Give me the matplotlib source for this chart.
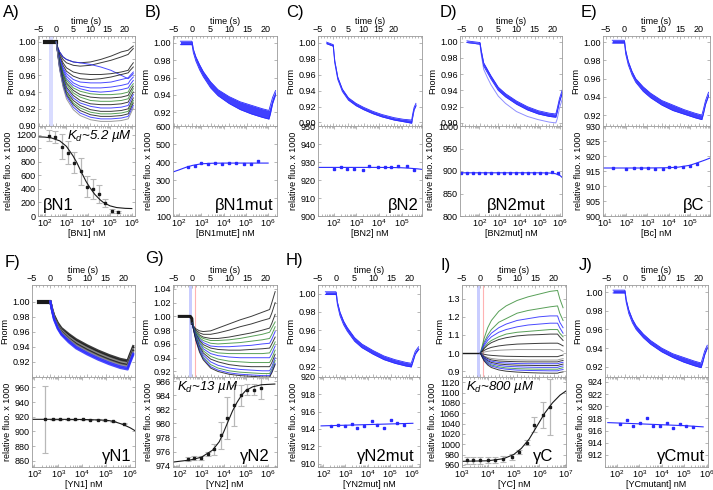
import numpy as np
import matplotlib
matplotlib.use('Agg')
import matplotlib.pyplot as plt
from matplotlib.ticker import (LogLocator, FormatStrFormatter, MultipleLocator,
                               NullFormatter)

plt.rcParams['font.family'] = ['Liberation Sans', 'DejaVu Sans']
plt.rcParams['mathtext.fontset'] = 'custom'
plt.rcParams['mathtext.rm'] = 'Liberation Sans'
plt.rcParams['mathtext.it'] = 'Liberation Sans:italic'

BLUE = '#2b2bff'
GREEN = '#3b8f3b'
BLACK = '#1a1a1a'
GRAY = '#8a8a8a'
FRAME = '#9a9a9a'
CMAP = {'k': BLACK, 'b': BLUE, 'g': GREEN, 'y': GRAY}

# ---------------- time traces (Fnorm) ----------------
# multi-trace panels share one time grid (s)
t_multi = [0, 0.5, 1, 2, 3, 5, 7, 10, 13, 16, 19, 21, 21.6, 22.5]

A_cols = 'kkbkkbbbgkgkbkgkby'
A_traces = [
    [1.0, 0.993, 0.988, 0.982, 0.979, 0.976, 0.975, 0.976, 0.979, 0.983, 0.988, 0.990, 0.992, 0.995],
    [1.0, 0.992, 0.986, 0.979, 0.975, 0.972, 0.971, 0.972, 0.975, 0.978, 0.982, 0.985, 0.988, 0.992],
    [1.0, 0.993, 0.988, 0.982, 0.979, 0.976, 0.975, 0.973, 0.970, 0.966, 0.960, 0.956, 0.958, 0.962],
    [1.0, 0.991, 0.984, 0.975, 0.969, 0.964, 0.962, 0.961, 0.961, 0.962, 0.964, 0.966, 0.970, 0.975],
    [1.0, 0.990, 0.982, 0.972, 0.965, 0.959, 0.956, 0.955, 0.956, 0.958, 0.961, 0.963, 0.966, 0.970],
    [1.0, 0.990, 0.981, 0.969, 0.962, 0.955, 0.952, 0.951, 0.951, 0.952, 0.955, 0.957, 0.960, 0.964],
    [1.0, 0.989, 0.979, 0.967, 0.959, 0.951, 0.947, 0.945, 0.945, 0.946, 0.948, 0.950, 0.954, 0.958],
    [1.0, 0.988, 0.978, 0.965, 0.956, 0.948, 0.944, 0.941, 0.940, 0.941, 0.943, 0.945, 0.949, 0.954],
    [1.0, 0.988, 0.977, 0.963, 0.954, 0.945, 0.941, 0.938, 0.937, 0.937, 0.938, 0.940, 0.945, 0.950],
    [1.0, 0.987, 0.976, 0.961, 0.951, 0.942, 0.937, 0.934, 0.933, 0.933, 0.934, 0.936, 0.941, 0.947],
    [1.0, 0.987, 0.975, 0.959, 0.949, 0.939, 0.934, 0.930, 0.929, 0.929, 0.930, 0.932, 0.937, 0.944],
    [1.0, 0.986, 0.973, 0.957, 0.946, 0.936, 0.930, 0.926, 0.925, 0.925, 0.926, 0.928, 0.933, 0.940],
    [1.0, 0.986, 0.972, 0.955, 0.944, 0.933, 0.927, 0.923, 0.921, 0.921, 0.922, 0.924, 0.929, 0.937],
    [1.0, 0.985, 0.971, 0.953, 0.941, 0.930, 0.924, 0.919, 0.917, 0.917, 0.918, 0.920, 0.925, 0.933],
    [1.0, 0.985, 0.970, 0.951, 0.939, 0.927, 0.921, 0.916, 0.914, 0.914, 0.915, 0.917, 0.922, 0.930],
    [1.0, 0.984, 0.969, 0.949, 0.937, 0.925, 0.918, 0.913, 0.911, 0.911, 0.912, 0.914, 0.919, 0.927],
    [1.0, 0.984, 0.968, 0.948, 0.935, 0.922, 0.915, 0.910, 0.908, 0.908, 0.909, 0.911, 0.916, 0.924],
    [1.0, 0.983, 0.967, 0.946, 0.932, 0.919, 0.912, 0.907, 0.905, 0.905, 0.906, 0.908, 0.913, 0.921],
]

F_cols = 'kkykybb'
F_traces = [
    [1.0, 0.990, 0.982, 0.972, 0.965, 0.957, 0.950, 0.942, 0.935, 0.929, 0.924, 0.922, 0.930, 0.941],
    [1.0, 0.989, 0.981, 0.970, 0.963, 0.955, 0.948, 0.940, 0.933, 0.927, 0.922, 0.920, 0.928, 0.939],
    [1.0, 0.989, 0.980, 0.969, 0.962, 0.953, 0.946, 0.938, 0.931, 0.925, 0.920, 0.918, 0.926, 0.937],
    [1.0, 0.988, 0.979, 0.968, 0.960, 0.951, 0.944, 0.936, 0.929, 0.923, 0.918, 0.916, 0.924, 0.935],
    [1.0, 0.988, 0.978, 0.967, 0.959, 0.950, 0.942, 0.934, 0.927, 0.921, 0.916, 0.914, 0.922, 0.933],
    [1.0, 0.987, 0.977, 0.965, 0.957, 0.948, 0.940, 0.932, 0.925, 0.919, 0.914, 0.912, 0.920, 0.931],
    [1.0, 0.987, 0.976, 0.964, 0.956, 0.946, 0.938, 0.930, 0.923, 0.917, 0.912, 0.910, 0.918, 0.929],
]

G_cols = 'kkkggbkgbgkbgbk'
G_traces = [
    [0.990, 0.985, 0.982, 0.979, 0.978, 0.979, 0.983, 0.989, 0.995, 1.000, 1.006, 1.010, 1.020, 1.036],
    [0.990, 0.984, 0.980, 0.976, 0.974, 0.974, 0.976, 0.980, 0.985, 0.989, 0.994, 0.997, 1.005, 1.020],
    [0.990, 0.983, 0.978, 0.973, 0.970, 0.968, 0.968, 0.970, 0.973, 0.976, 0.980, 0.983, 0.990, 1.003],
    [0.990, 0.983, 0.977, 0.971, 0.968, 0.965, 0.965, 0.966, 0.968, 0.971, 0.974, 0.977, 0.983, 0.992],
    [0.990, 0.982, 0.976, 0.969, 0.965, 0.961, 0.960, 0.961, 0.962, 0.964, 0.966, 0.968, 0.974, 0.985],
    [0.990, 0.982, 0.975, 0.967, 0.962, 0.957, 0.956, 0.956, 0.957, 0.958, 0.960, 0.961, 0.967, 0.978],
    [0.990, 0.981, 0.974, 0.965, 0.959, 0.954, 0.952, 0.951, 0.951, 0.952, 0.953, 0.954, 0.960, 0.970],
    [0.990, 0.981, 0.973, 0.963, 0.956, 0.950, 0.947, 0.946, 0.946, 0.946, 0.946, 0.947, 0.953, 0.963],
    [0.990, 0.980, 0.972, 0.961, 0.953, 0.946, 0.943, 0.941, 0.940, 0.940, 0.940, 0.940, 0.946, 0.957],
    [0.990, 0.980, 0.971, 0.958, 0.950, 0.942, 0.938, 0.935, 0.934, 0.933, 0.933, 0.933, 0.939, 0.951],
    [0.990, 0.979, 0.969, 0.956, 0.947, 0.938, 0.934, 0.930, 0.928, 0.927, 0.927, 0.927, 0.933, 0.945],
    [0.990, 0.979, 0.968, 0.954, 0.944, 0.934, 0.929, 0.925, 0.923, 0.922, 0.921, 0.921, 0.927, 0.940],
    [0.990, 0.978, 0.967, 0.952, 0.941, 0.930, 0.925, 0.921, 0.919, 0.918, 0.917, 0.917, 0.923, 0.936],
    [0.990, 0.978, 0.966, 0.950, 0.939, 0.927, 0.922, 0.918, 0.916, 0.915, 0.914, 0.914, 0.920, 0.932],
    [0.990, 0.977, 0.965, 0.948, 0.937, 0.925, 0.920, 0.916, 0.914, 0.913, 0.912, 0.912, 0.918, 0.930],
]

I_cols = 'ggbbgkkykykbkbgbk'
I_traces = [
    [1.0, 1.040, 1.080, 1.140, 1.180, 1.230, 1.260, 1.290, 1.310, 1.325, 1.340, 1.345, 1.300, 1.250],
    [1.0, 1.030, 1.060, 1.100, 1.130, 1.170, 1.190, 1.220, 1.235, 1.245, 1.255, 1.260, 1.220, 1.180],
    [1.0, 1.025, 1.050, 1.085, 1.110, 1.140, 1.160, 1.180, 1.190, 1.200, 1.205, 1.205, 1.170, 1.140],
    [1.0, 1.020, 1.040, 1.070, 1.090, 1.115, 1.130, 1.145, 1.155, 1.160, 1.165, 1.165, 1.140, 1.110],
    [1.0, 1.015, 1.030, 1.055, 1.070, 1.090, 1.105, 1.115, 1.120, 1.125, 1.130, 1.130, 1.110, 1.090],
    [1.0, 1.012, 1.025, 1.045, 1.058, 1.075, 1.085, 1.095, 1.100, 1.102, 1.105, 1.105, 1.090, 1.070],
    [1.0, 1.008, 1.015, 1.025, 1.032, 1.040, 1.045, 1.050, 1.052, 1.054, 1.055, 1.055, 1.050, 1.040],
    [1.0, 1.003, 1.006, 1.010, 1.013, 1.016, 1.018, 1.020, 1.020, 1.020, 1.020, 1.020, 1.020, 1.010],
    [1.0, 0.997, 0.994, 0.990, 0.988, 0.985, 0.983, 0.982, 0.981, 0.981, 0.981, 0.981, 0.985, 0.990],
    [1.0, 0.992, 0.985, 0.976, 0.971, 0.966, 0.964, 0.963, 0.962, 0.962, 0.962, 0.962, 0.966, 0.970],
    [1.0, 0.990, 0.981, 0.970, 0.963, 0.957, 0.955, 0.953, 0.952, 0.952, 0.952, 0.952, 0.956, 0.960],
    [1.0, 0.988, 0.977, 0.964, 0.956, 0.949, 0.946, 0.943, 0.942, 0.942, 0.942, 0.942, 0.946, 0.950],
    [1.0, 0.986, 0.973, 0.958, 0.949, 0.941, 0.937, 0.934, 0.933, 0.932, 0.932, 0.932, 0.936, 0.940],
    [1.0, 0.984, 0.969, 0.952, 0.942, 0.933, 0.928, 0.925, 0.923, 0.922, 0.922, 0.922, 0.926, 0.930],
    [1.0, 0.982, 0.965, 0.946, 0.935, 0.925, 0.919, 0.915, 0.913, 0.912, 0.912, 0.912, 0.916, 0.920],
    [1.0, 0.980, 0.962, 0.941, 0.929, 0.918, 0.912, 0.907, 0.905, 0.904, 0.903, 0.903, 0.907, 0.910],
    [1.0, 0.978, 0.958, 0.935, 0.921, 0.908, 0.901, 0.896, 0.893, 0.891, 0.890, 0.890, 0.894, 0.897],
]

# single-band panels: upper / lower edge of the overlaid traces
tB = [-3.2, -0.1, 0, 0.3, 1, 2, 3, 5, 7, 10, 13, 16, 19, 20.8, 21.2, 21.8, 22.6]
B_hi = [1.002, 1.002, 1.001, 0.993, 0.984, 0.975, 0.967, 0.955, 0.946, 0.938, 0.932, 0.928, 0.924, 0.922, 0.928, 0.937, 0.945]
B_lo = [0.998, 0.998, 0.997, 0.989, 0.979, 0.969, 0.961, 0.948, 0.939, 0.930, 0.923, 0.918, 0.914, 0.912, 0.918, 0.930, 0.940]

tC = [-2.2, -0.1, 0, 0.5, 1.5, 3, 5, 7.5, 10, 13, 16, 20, 23, 25.8, 26.1, 26.6, 27.2]
C_hi = [1.001, 0.998, 0.998, 0.978, 0.957, 0.942, 0.931, 0.924, 0.919, 0.914, 0.910, 0.906, 0.904, 0.903, 0.910, 0.919, 0.924]
C_lo = [0.999, 0.996, 0.996, 0.975, 0.954, 0.939, 0.928, 0.921, 0.916, 0.911, 0.907, 0.903, 0.901, 0.899, 0.906, 0.916, 0.921]

tD = [-3.6, -0.1, 0, 0.3, 1, 2, 3, 5, 7, 10, 13, 16, 19, 20.8, 21.2, 21.8, 22.6]
D_hi = [1.001, 0.999, 0.999, 0.990, 0.974, 0.966, 0.958, 0.944, 0.936, 0.927, 0.920, 0.915, 0.912, 0.911, 0.918, 0.930, 0.941]
D_lo = [0.999, 0.997, 0.997, 0.987, 0.970, 0.962, 0.954, 0.940, 0.932, 0.923, 0.916, 0.911, 0.908, 0.907, 0.914, 0.926, 0.937]
D_faint = [0.999, 0.997, 0.997, 0.985, 0.966, 0.956, 0.947, 0.933, 0.924, 0.914, 0.908, 0.904, 0.901, 0.900, 0.905, 0.918, 0.930]

tE = [-3.3, -0.1, 0, 0.3, 1, 2, 3, 5, 7, 10, 13, 16, 19, 20.8, 21.2, 21.8, 22.6]
E_hi = [1.002, 1.002, 1.001, 0.991, 0.979, 0.968, 0.960, 0.951, 0.944, 0.936, 0.931, 0.926, 0.922, 0.920, 0.926, 0.936, 0.945]
E_lo = [0.999, 0.999, 0.998, 0.987, 0.975, 0.964, 0.956, 0.946, 0.939, 0.931, 0.925, 0.921, 0.917, 0.915, 0.921, 0.932, 0.941]

tH = [-3.0, -0.1, 0, 0.3, 1, 2, 3, 5, 7, 10, 13, 16, 19, 20.5, 20.9, 21.6, 22.5]
H_hi = [1.002, 1.002, 1.001, 0.991, 0.980, 0.970, 0.963, 0.952, 0.945, 0.938, 0.932, 0.928, 0.925, 0.924, 0.929, 0.937, 0.942]
H_lo = [0.999, 0.999, 0.998, 0.988, 0.976, 0.966, 0.959, 0.948, 0.941, 0.934, 0.928, 0.924, 0.921, 0.920, 0.925, 0.934, 0.939]

tJ = [-3.3, -0.1, 0, 0.3, 1, 2, 3, 5, 7, 10, 13, 16, 19, 20.8, 21.2, 21.8, 22.5]
J_hi = [1.002, 1.002, 1.001, 0.992, 0.981, 0.971, 0.964, 0.955, 0.948, 0.940, 0.934, 0.930, 0.926, 0.924, 0.929, 0.937, 0.943]
J_lo = [0.999, 0.999, 0.998, 0.989, 0.977, 0.967, 0.960, 0.951, 0.944, 0.936, 0.930, 0.925, 0.921, 0.919, 0.924, 0.933, 0.940]

# ---------------- titrations (relative fluo x 1000) ----------------
A_conc = [160, 316, 617, 1175, 2290, 4470, 8530, 16600, 31600, 61700, 120000, 234000]
A_resp = [1184, 1170, 1026, 937, 789, 661, 434, 404, 325, 188, 78, 59]
A_err = [80, 90, 180, 170, 160, 200, 150, 150, 130, 60, 30, 15]
A_fit_x = [50, 100, 200, 500, 1000, 2000, 3000, 5000, 8000, 12000, 20000, 35000, 50000, 100000, 200000, 500000, 1000000]
A_fit_y = [1170, 1166, 1155, 1110, 1030, 890, 790, 640, 510, 420, 320, 240, 200, 150, 125, 113, 110]

B_conc = [250, 500, 1000, 2000, 4000, 8700, 17400, 37000, 79000, 162000, 347000]
B_resp = [370, 380, 392, 388, 396, 391, 393, 392, 391, 390, 405]
B_fit_x = [55, 100, 200, 400, 1000, 3000, 10000, 100000, 1000000]
B_fit_y = [345, 356, 370, 381, 390, 393, 394, 394, 394]

C_conc = [100, 200, 400, 790, 1900, 3800, 8900, 17800, 35500, 72000, 170000, 340000]
C_resp = [926.0, 927.5, 926.0, 926.3, 925.3, 927.8, 927.3, 927.3, 927.5, 927.7, 927.8, 925.5]
C_fit_x = [20, 100, 1000, 10000, 50000, 100000, 200000, 500000, 800000]
C_fit_y = [927, 927, 927, 927, 926.9, 926.8, 926.6, 926.2, 925.9]

D_conc = [13, 25, 50, 100, 200, 400, 800, 1600, 3200, 6400, 12800, 25600, 51200, 102400, 204800, 409600, 819200]
D_resp = [896, 896, 896, 896, 896, 896, 896, 896, 896, 896, 896, 896, 896, 896, 896, 897, 896]
D_fit_x = [11, 100, 10000, 100000, 300000, 600000, 1000000, 1260000]
D_fit_y = [896, 896, 896, 896, 895.5, 894, 890, 886]

E_conc = [25, 98, 230, 480, 1120, 2300, 5200, 10000, 21000, 47000, 98000, 220000]
E_resp = [916.0, 915.8, 916.1, 916.1, 915.9, 915.8, 915.8, 916.3, 916.3, 916.2, 916.8, 917.5]
E_fit_x = [8, 100, 1000, 10000, 30000, 100000, 200000, 500000, 900000]
E_fit_y = [916, 916, 916, 916.1, 916.3, 916.9, 917.6, 918.6, 919.3]

F_conc = [280, 590, 1200, 2500, 5000, 10700, 21000, 45000, 91000, 200000, 560000]
F_resp = [916.5, 916.5, 916.5, 916.5, 916.5, 916.3, 916.2, 915.8, 915.2, 914.0, 910.5]
F_err = [46, 0.6, 0.6, 0.6, 0.6, 0.6, 0.6, 0.6, 0.6, 0.6, 0.6]
F_fit_x = [80, 1000, 10000, 100000, 200000, 500000, 1000000, 1600000]
F_fit_y = [916.5, 916.5, 916.3, 915.3, 913.8, 909.5, 905.0, 901.0]

G_conc = [240, 480, 955, 1900, 3600, 7200, 14500, 29000, 59000, 117000, 234000, 468000]
G_resp = [974.9, 975.1, 975.1, 975.6, 976.3, 978.3, 980.8, 982.6, 984.0, 984.8, 984.8, 985.0]
G_err = [0.3, 0.3, 0.3, 0.3, 0.8, 1.9, 3.0, 2.9, 1.5, 0.8, 0.8, 1.5]
G_fit_x = [52, 316, 1000, 3160, 6300, 10000, 15800, 25100, 39800, 63100, 100000, 200000, 500000, 2000000]
G_fit_y = [974.5, 974.8, 975.2, 976.2, 977.4, 978.8, 980.3, 981.8, 983.0, 984.0, 984.7, 985.2, 985.5, 985.6]

H_conc = [214, 480, 955, 1900, 3470, 6900, 15500, 27500, 56000, 112000, 209000, 417000]
H_resp = [914.3, 914.45, 914.3, 914.6, 914.1, 914.3, 914.9, 914.5, 914.1, 915.0, 914.7, 914.4]
H_fit_x = [80, 10000, 1100000]
H_fit_y = [914.35, 914.5, 914.65]

I_conc = [1550, 2630, 5100, 10000, 19000, 40000, 85000, 166000, 324000, 630000, 1350000, 2570000]
I_resp = [968.8, 968.8, 968.8, 969.0, 970.0, 971.6, 975.5, 985.0, 1003, 1038, 1057, 1072]
I_err = [7, 7, 7, 6, 6, 5, 6, 4, 5, 15, 25, 54]
I_fit_x = [1000, 10000, 40000, 100000, 200000, 400000, 800000, 1600000, 3200000, 6300000, 10700000]
I_fit_y = [967, 968, 972, 980, 992, 1010, 1035, 1060, 1080, 1095, 1103]

J_conc = [141, 275, 550, 1070, 2140, 4170, 8300, 16600, 32400, 64600, 126000, 251000]
J_resp = [917.0, 917.8, 916.8, 917.3, 918.0, 916.8, 916.8, 917.3, 916.4, 917.0, 916.8, 916.6]
J_fit_x = [40, 1000, 100000, 700000]
J_fit_y = [917.3, 917.1, 916.8, 916.6]

W, H = 713, 490
fig = plt.figure(figsize=(W / 100, H / 100), dpi=100)


def px_axes(l, t, r, b):
    return fig.add_axes([l / W, 1 - b / H, (r - l) / W, (b - t) / H])


def frame(ax):
    for s in ax.spines.values():
        s.set_color(FRAME)
        s.set_linewidth(0.6)


def top_panel(l, t, r, b, xlim, ylim, yticks, fmt):
    ax = px_axes(l, t, r, b)
    ax.set_xlim(xlim)
    ax.set_ylim(ylim)
    ax.xaxis.tick_top()
    ax.xaxis.set_label_position('top')
    ax.set_xlabel('time (s)', fontsize=6.5, labelpad=1)
    ax.set_xticks([-5, 0, 5, 10, 15, 20])
    ax.xaxis.set_minor_locator(MultipleLocator(1))
    ax.set_yticks(yticks)
    ax.yaxis.set_major_formatter(FormatStrFormatter(fmt))
    ax.tick_params(which='both', direction='in', top=True, bottom=True,
                   left=True, right=True, labelbottom=False, labeltop=True,
                   labelsize=6.5, pad=1.5, color=FRAME, width=0.5, length=2)
    ax.tick_params(which='minor', length=1.2)
    ax.set_ylabel('Fnorm', fontsize=6.5, labelpad=2)
    frame(ax)
    return ax


def bottom_panel(l, t, r, b, xlim, ylim, yticks, xlabel):
    ax = px_axes(l, t, r, b)
    ax.set_xscale('log')
    ax.set_xlim(xlim)
    ax.set_ylim(ylim)
    ax.xaxis.set_major_locator(LogLocator(base=10, numticks=12))
    ax.xaxis.set_minor_locator(LogLocator(base=10, subs=np.arange(2, 10), numticks=12))
    ax.xaxis.set_minor_formatter(NullFormatter())
    ax.set_yticks(yticks)
    ax.tick_params(which='both', direction='in', top=True, bottom=True,
                   left=True, right=True, labelsize=6.5, pad=1.5,
                   color=FRAME, width=0.5, length=2)
    ax.tick_params(axis='x', pad=0.8)
    ax.tick_params(which='minor', length=1.2)
    ax.set_xlabel(xlabel, fontsize=6.5, labelpad=0)
    ax.set_ylabel('relative fluo. x 1000', fontsize=6.5, labelpad=2)
    frame(ax)
    return ax


def band(ax, tt, hi, lo):
    ax.fill_between(tt, lo, hi, color=BLUE, lw=0, alpha=0.9)
    ax.plot(tt, hi, color=BLUE, lw=0.6)
    ax.plot(tt, lo, color=BLUE, lw=0.6)


def traces(ax, cols, rows, lw=0.7):
    for c, row in zip(cols, rows):
        ax.plot(t_multi, row, color=CMAP[c], lw=lw, alpha=0.85)


def titration(ax, conc, resp, fx, fy, col, err=None):
    if err is not None:
        ax.errorbar(conc, resp, yerr=err, fmt='none', ecolor='#b8b8b8',
                    elinewidth=0.9, capsize=2, capthick=0.8)
    ax.plot(fx, fy, '-', color=col, lw=0.8)
    ax.plot(conc, resp, 's', color=col, ms=2, mec=col)


def name(ax, s, x, y, ha):
    ax.text(x, y, s, transform=ax.transAxes, fontsize=12, ha=ha, va='bottom')


def kd(ax, s, x, y, ha):
    ax.text(x, y, s, transform=ax.transAxes, fontsize=9.5, ha=ha, va='top',
            style='italic')


def plabel(x, y, s):
    fig.text(x / W, 1 - y / H, s, fontsize=12, ha='left', va='center')


# ---------------- row 1 ----------------
# A
ax = top_panel(38, 36, 135, 126, (-5.3, 23), (0.8995, 1.007),
               [0.90, 0.92, 0.94, 0.96, 0.98, 1.00], '%.2f')
ax.axvspan(-2.0, -1.0, color='#d9dcff', lw=0)
ax.plot([-3.3, 0], [1.0, 1.0], color=BLACK, lw=3)
traces(ax, A_cols, A_traces)
ax = bottom_panel(38, 126, 135, 216, (50, 1.4e6), (0, 1330),
                  [0, 200, 400, 600, 800, 1000, 1200], '[BN1] nM')
titration(ax, A_conc, A_resp, A_fit_x, A_fit_y, BLACK, A_err)
name(ax, 'βN1', 0.05, 0.03, 'left')
kd(ax, 'K$_d$~5.2 µM', 0.97, 0.98, 'right')
plabel(3, 13, 'A)')

# B
ax = top_panel(173, 36, 277, 126, (-5.2, 23), (0.904, 1.008),
               [0.92, 0.94, 0.96, 0.98, 1.00], '%.2f')
band(ax, tB, B_hi, B_lo)
ax = bottom_panel(173, 126, 277, 216, (54, 2.5e6), (100, 600),
                  [100, 200, 300, 400, 500, 600], '[BN1mutE] nM')
titration(ax, B_conc, B_resp, B_fit_x, B_fit_y, BLUE)
name(ax, 'βN1mut', 0.97, 0.03, 'right')
plabel(145, 13, 'B)')

# C
ax = top_panel(318, 36, 422, 126, (-3.7, 29.2), (0.8955, 1.0087),
               [0.90, 0.92, 0.94, 0.96, 0.98, 1.00], '%.2f')
band(ax, tC, C_hi, C_lo)
ax = bottom_panel(318, 126, 422, 216, (20, 8e5), (900, 950),
                  [900, 910, 920, 930, 940, 950], '[BN2] nM')
titration(ax, C_conc, C_resp, C_fit_x, C_fit_y, BLUE)
name(ax, 'βN2', 0.97, 0.03, 'right')
plabel(286, 13, 'C)')

# D
ax = top_panel(460, 36, 562, 126, (-5.5, 22.5), (0.8962, 1.007),
               [0.90, 0.92, 0.94, 0.96, 0.98, 1.00], '%.2f')
ax.plot(tD, D_faint, color='#8f8fff', lw=0.7)
band(ax, tD, D_hi, D_lo)
ax = bottom_panel(460, 126, 562, 216, (11, 1.26e6), (800, 1000),
                  [800, 850, 900, 950, 1000], '[BN2mut] nM')
titration(ax, D_conc, D_resp, D_fit_x, D_fit_y, BLUE)
name(ax, 'βN2mut', 0.55, 0.03, 'center')
plabel(440, 13, 'D)')

# E
ax = top_panel(603, 36, 710, 126, (-5.8, 23), (0.908, 1.0067),
               [0.92, 0.94, 0.96, 0.98, 1.00], '%.2f')
band(ax, tE, E_hi, E_lo)
ax = bottom_panel(603, 126, 710, 216, (8, 9e5), (900, 930),
                  [900, 905, 910, 915, 920, 925, 930], '[Bc] nM')
titration(ax, E_conc, E_resp, E_fit_x, E_fit_y, BLUE)
name(ax, 'βC', 0.95, 0.03, 'right')
plabel(581, 13, 'E)')

# ---------------- row 2 ----------------
# F
ax = top_panel(32, 285, 135, 377, (-5.0, 23), (0.90, 1.022),
               [0.92, 0.94, 0.96, 0.98, 1.00], '%.2f')
ax.plot([-3.0, -0.3], [1.0, 1.0], color=BLACK, lw=3)
traces(ax, F_cols, F_traces, lw=1.6)
ax = bottom_panel(32, 377, 135, 467, (80, 1.6e6), (851.5, 974.2),
                  [860, 880, 900, 920, 940, 960], '[YN1] nM')
titration(ax, F_conc, F_resp, F_fit_x, F_fit_y, BLACK, F_err)
name(ax, 'γN1', 0.97, 0.03, 'right')
plabel(5, 262, 'F)')

# G
ax = top_panel(173, 285, 277, 377, (-5.2, 23), (0.912, 1.0456),
               [0.92, 0.94, 0.96, 0.98, 1.00, 1.02, 1.04], '%.2f')
ax.axvspan(-0.8, 0.0, color='#c9cdff', lw=0)
ax.axvline(0.8, color='#ffb3b3', lw=0.8)
ax.plot([-3.5, -0.5, -0.1, 0], [1.0, 1.0, 0.997, 0.99], color=BLACK, lw=2.2)
traces(ax, G_cols, G_traces)
ax = bottom_panel(173, 377, 277, 467, (52, 2.5e6), (973.8, 986.6),
                  [974, 976, 978, 980, 982, 984, 986], '[YN2] nM')
titration(ax, G_conc, G_resp, G_fit_x, G_fit_y, BLACK, G_err)
name(ax, 'γN2', 0.93, 0.03, 'right')
kd(ax, 'K$_d$~13 µM', 0.04, 0.98, 'left')
plabel(145, 259, 'G)')

# H
ax = top_panel(318, 285, 420, 377, (-4.7, 22.9), (0.909, 1.0094),
               [0.92, 0.94, 0.96, 0.98, 1.00], '%.2f')
band(ax, tH, H_hi, H_lo)
ax = bottom_panel(318, 377, 420, 467, (58, 2.3e6), (909.6, 920),
                  [910, 912, 914, 916, 918, 920], '[YN2mut] nM')
titration(ax, H_conc, H_resp, H_fit_x, H_fit_y, BLUE)
name(ax, 'γN2mut', 0.95, 0.03, 'right')
plabel(286, 261, 'H)')

# I
ax = top_panel(462, 285, 566, 377, (-4.9, 23.3), (0.869, 1.375),
               [0.9, 1.0, 1.1, 1.2, 1.3], '%.1f')
ax.axvspan(-1.0, -0.2, color='#c9cdff', lw=0)
ax.axvline(0.8, color='#ffb3b3', lw=0.8)
ax.plot([-5, 0], [1.0, 1.0], color=BLACK, lw=1.0)
traces(ax, I_cols, I_traces)
ax = bottom_panel(462, 377, 566, 467, (1000, 1.07e7), (956, 1130),
                  [960, 980, 1000, 1020, 1040, 1060, 1080, 1100, 1120], '[YC] nM')
titration(ax, I_conc, I_resp, I_fit_x, I_fit_y, BLACK, I_err)
name(ax, 'γC', 0.88, 0.03, 'right')
kd(ax, 'K$_d$~800 µM', 0.04, 0.98, 'left')
plabel(440, 265, 'I)')

# J
ax = top_panel(605, 285, 708, 377, (-5.5, 22.7), (0.909, 1.0075),
               [0.92, 0.94, 0.96, 0.98, 1.00], '%.2f')
band(ax, tJ, J_hi, J_lo)
ax = bottom_panel(605, 377, 708, 467, (30, 1.15e6), (910.0, 924.8),
                  [912, 914, 916, 918, 920, 922, 924], '[YCmutant] nM')
titration(ax, J_conc, J_resp, J_fit_x, J_fit_y, BLUE)
name(ax, 'γCmut', 0.97, 0.03, 'right')
plabel(579, 265, 'J)')

fig.savefig('out.png', dpi=100)
